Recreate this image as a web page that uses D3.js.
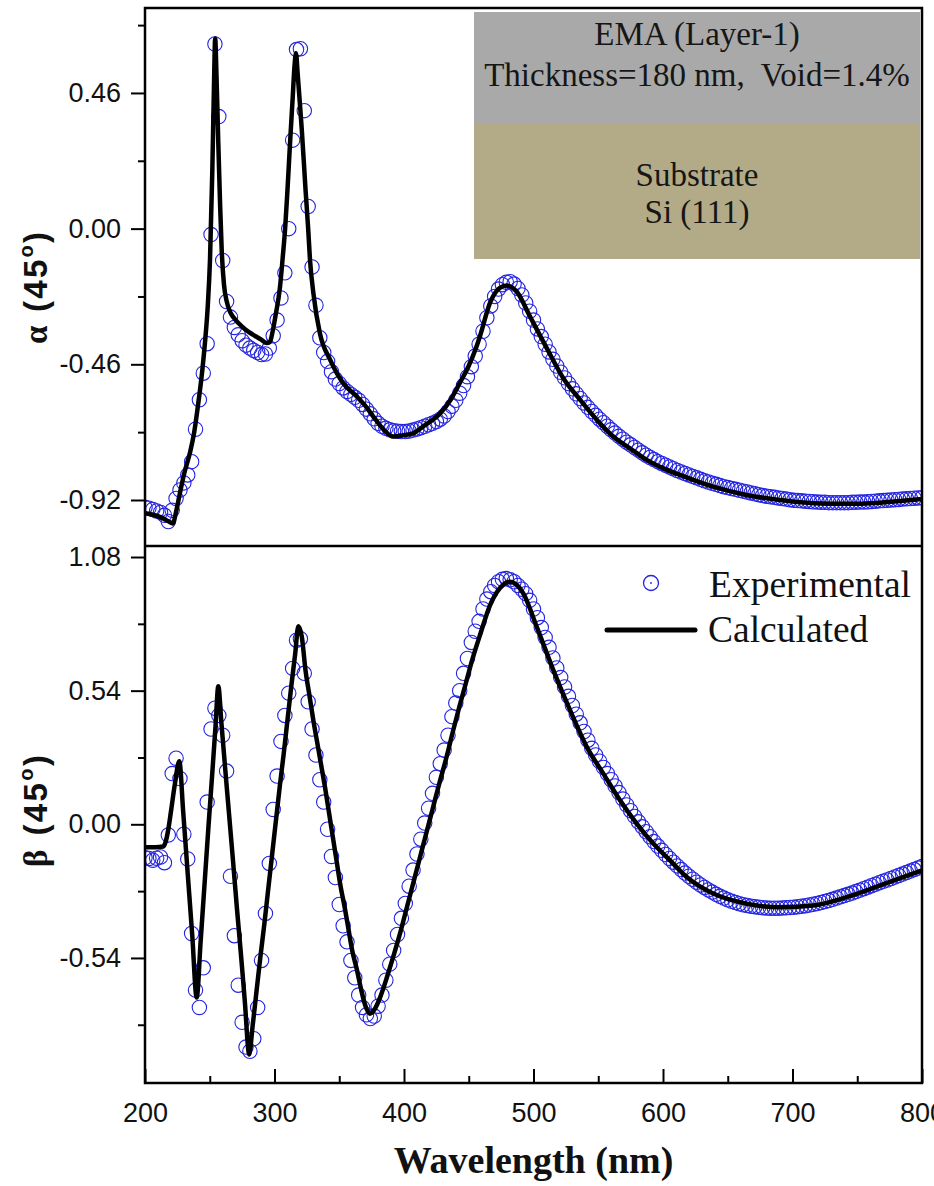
<!DOCTYPE html>
<html><head><meta charset="utf-8">
<script src="https://cdn.jsdelivr.net/npm/d3@7"></script>
<style>
html,body{margin:0;padding:0;background:#fff;}
svg{display:block;}
</style></head><body>
<svg id="chart" width="934" height="1186"></svg>
<script>
// ---------------- DATA ----------------
// experimental wavelengths (nm), sampling grid of the measured points
const expWavelengths = d3.range(200, 801, 3);

// alpha(45°) experimental, one value per wavelength above
const alphaExp = [
-0.945,-0.948,-0.952,-0.957,-0.962,-0.972,-0.993,-0.955,-0.915,-0.886,
-0.862,-0.835,-0.79,-0.68,-0.58,-0.49,-0.39,-0.02,0.626,0.38,
-0.108,-0.247,-0.30,-0.335,-0.36,-0.38,-0.395,-0.405,-0.413,-0.42,
-0.427,-0.425,-0.405,-0.363,-0.31,-0.235,-0.15,0.0,0.30,0.607,
0.61,0.40,0.075,-0.13,-0.26,-0.37,-0.42,-0.45,-0.485,-0.51,
-0.525,-0.54,-0.552,-0.562,-0.572,-0.582,-0.596,-0.612,-0.628,-0.645,
-0.66,-0.67,-0.677,-0.682,-0.685,-0.687,-0.688,-0.688,-0.686,-0.683,
-0.679,-0.675,-0.67,-0.665,-0.66,-0.654,-0.646,-0.635,-0.62,-0.602,
-0.582,-0.558,-0.532,-0.502,-0.468,-0.432,-0.392,-0.348,-0.302,-0.262,
-0.23,-0.205,-0.19,-0.182,-0.18,-0.188,-0.203,-0.225,-0.252,-0.28,
-0.31,-0.34,-0.366,-0.392,-0.418,-0.443,-0.466,-0.487,-0.506,-0.525,
-0.543,-0.56,-0.576,-0.591,-0.606,-0.62,-0.633,-0.646,-0.658,-0.67,
-0.682,-0.693,-0.704,-0.714,-0.724,-0.733,-0.742,-0.751,-0.76,-0.768,
-0.776,-0.783,-0.79,-0.796,-0.802,-0.808,-0.814,-0.82,-0.825,-0.83,
-0.835,-0.84,-0.845,-0.85,-0.855,-0.859,-0.863,-0.867,-0.871,-0.875,
-0.878,-0.881,-0.884,-0.887,-0.89,-0.893,-0.896,-0.899,-0.902,-0.905,
-0.907,-0.909,-0.911,-0.913,-0.915,-0.917,-0.919,-0.921,-0.922,-0.923,
-0.924,-0.925,-0.926,-0.927,-0.928,-0.928,-0.929,-0.929,-0.929,-0.929,
-0.929,-0.929,-0.928,-0.928,-0.927,-0.927,-0.926,-0.925,-0.924,-0.923,
-0.922,-0.921,-0.92,-0.919,-0.918,-0.917,-0.916,-0.915,-0.914,-0.913,
-0.912];

// beta(45°) experimental
const betaExp = [
-0.135,-0.138,-0.145,-0.137,-0.132,-0.155,-0.043,0.205,0.267,0.185,
-0.04,-0.14,-0.441,-0.67,-0.74,-0.58,0.09,0.385,0.469,0.44,
0.36,0.215,-0.21,-0.45,-0.65,-0.80,-0.90,-0.917,-0.866,-0.74,
-0.55,-0.36,-0.158,0.06,0.195,0.335,0.44,0.53,0.63,0.744,
0.75,0.61,0.495,0.385,0.28,0.18,0.09,-0.02,-0.13,-0.215,
-0.324,-0.41,-0.475,-0.55,-0.62,-0.69,-0.74,-0.77,-0.785,-0.775,
-0.735,-0.69,-0.63,-0.565,-0.51,-0.445,-0.38,-0.32,-0.25,-0.185,
-0.12,-0.06,0.005,0.065,0.125,0.19,0.245,0.30,0.36,0.435,
0.49,0.54,0.61,0.67,0.735,0.78,0.82,0.87,0.91,0.94,
0.965,0.98,0.99,0.993,0.988,0.98,0.965,0.95,0.932,0.905,
0.87,0.835,0.795,0.755,0.715,0.672,0.632,0.593,0.555,0.517,
0.48,0.445,0.41,0.375,0.34,0.307,0.28,0.255,0.23,0.205,
0.18,0.155,0.128,0.102,0.078,0.055,0.032,0.01,-0.01,-0.03,
-0.05,-0.07,-0.088,-0.105,-0.122,-0.138,-0.153,-0.168,-0.183,-0.197,
-0.21,-0.222,-0.234,-0.245,-0.255,-0.265,-0.274,-0.283,-0.291,-0.298,
-0.305,-0.311,-0.316,-0.321,-0.325,-0.328,-0.331,-0.333,-0.335,-0.337,
-0.338,-0.339,-0.339,-0.339,-0.338,-0.337,-0.336,-0.335,-0.333,-0.331,
-0.329,-0.326,-0.323,-0.32,-0.316,-0.312,-0.308,-0.303,-0.298,-0.293,
-0.288,-0.283,-0.278,-0.272,-0.266,-0.26,-0.254,-0.248,-0.242,-0.236,
-0.23,-0.225,-0.219,-0.213,-0.207,-0.201,-0.195,-0.189,-0.183,-0.177,
-0.171];

// calculated alpha: [wavelength, value]
const alphaCalc = [
[200,-0.965],[206,-0.970],[212,-0.978],[218,-0.992],[221.5,-1.0],[224,-0.96],[227,-0.896],
[230,-0.835],[234.7,-0.76],[238,-0.69],[241.2,-0.59],[244,-0.49],[246.3,-0.387],[248.5,-0.26],
[250.2,-0.105],[252,0.2],[253.2,0.47],[254.2,0.645],[255.2,0.52],[256.6,0.29],[258,0.08],
[259.3,-0.08],[261,-0.19],[263,-0.245],[266,-0.285],[270,-0.31],[275,-0.332],[280,-0.35],
[285,-0.364],[290,-0.377],[294,-0.388],[296.5,-0.384],[298.5,-0.35],[301,-0.29],[304.2,-0.2],
[306.3,-0.1],[308.2,0.0],[310,0.13],[312,0.29],[314,0.44],[315.6,0.56],[316.6,0.595],
[317.8,0.53],[319.5,0.43],[321,0.34],[324,0.13],[326,0.0],[327.4,-0.105],[330,-0.218],
[335,-0.354],[343,-0.445],[353,-0.524],[363.5,-0.569],[370,-0.60],[376.3,-0.637],[384,-0.68],
[391.7,-0.705],[400,-0.70],[407,-0.694],[415,-0.67],[428,-0.626],[436,-0.58],[443,-0.524],
[450,-0.465],[456,-0.40],[459,-0.36],[466.4,-0.252],[474,-0.201],[479.3,-0.193],[487,-0.213],
[497.3,-0.298],[510.2,-0.405],[523,-0.507],[535.9,-0.58],[548.8,-0.648],[561.6,-0.705],
[574.5,-0.745],[587.4,-0.784],[600,-0.812],[613.1,-0.835],[638.8,-0.875],[664.6,-0.903],
[690.3,-0.92],[716.1,-0.931],[741.9,-0.933],[767.6,-0.929],[800,-0.917]];

// calculated beta: [wavelength, value]
const betaCalc = [
[200,-0.093],[208,-0.093],[214,-0.09],[216,-0.07],[218,-0.02],[220,0.05],[223,0.16],
[226.5,0.255],[229.5,0.05],[233,-0.2],[236.5,-0.45],[239.9,-0.70],[243,-0.47],[246,-0.24],
[249,-0.01],[252,0.21],[254.5,0.40],[256.6,0.558],[259,0.41],[262,0.22],[265,0.035],
[268,-0.15],[271,-0.34],[274,-0.52],[277,-0.71],[280.5,-0.93],[283,-0.82],[286,-0.68],
[289,-0.54],[292,-0.41],[295,-0.27],[298,-0.13],[301,0.01],[304,0.15],[307,0.28],[310,0.42],
[313,0.56],[316,0.69],[318.4,0.80],[321,0.76],[324,0.62],[327,0.52],[330,0.42],[333,0.33],
[336,0.24],[339,0.15],[342,0.05],[345,-0.05],[348,-0.15],[351,-0.25],[354,-0.33],[357,-0.42],
[360,-0.51],[363.5,-0.585],[367,-0.67],[370,-0.73],[373.7,-0.765],[377,-0.75],[381.5,-0.70],
[387,-0.615],[392,-0.53],[397,-0.44],[402,-0.34],[407,-0.24],[412,-0.14],[417,-0.04],
[422,0.06],[427,0.16],[433,0.275],[438,0.38],[443,0.48],[448,0.575],[453,0.67],[458.7,0.765],
[466.4,0.885],[474.1,0.955],[481.9,0.98],[492.1,0.933],[502.5,0.798],[515.3,0.623],
[528.2,0.461],[541.1,0.313],[553.9,0.205],[566.8,0.097],[579.7,0.003],[592.5,-0.078],
[605.4,-0.146],[618.3,-0.213],[638.8,-0.28],[664.6,-0.321],[690.3,-0.335],[716.1,-0.328],
[741.9,-0.294],[767.6,-0.247],[800,-0.186]];

const xTicks = [200,300,400,500,600,700,800];
const xMinorTicks = [250,350,450,550,650,750];
const alphaTicks = [0.46,0.00,-0.46,-0.92];
const alphaMinorTicks = [0.69,0.23,-0.23,-0.69];
const betaTicks = [1.08,0.54,0.00,-0.54];
const betaMinorTicks = [0.81,0.27,-0.27,-0.81];
const insetTopLines = ["EMA (Layer-1)", "Thickness=180 nm,  Void=1.4%"];
const insetBottomLines = ["Substrate", "Si (111)"];
const legendLabels = ["Experimental", "Calculated"];

// ---------------- LAYOUT ----------------
const svg = d3.select('#chart');
const L = 145, R = 922, T = 8, M = 546, B = 1083;
const blue = '#2424e2';
const sans = "'Liberation Sans', Arial, sans-serif";
const serif = "'Liberation Serif', 'Times New Roman', serif";

const x = d3.scaleLinear().domain([200, 800]).range([L, R]);
const yA = d3.scaleLinear().domain([-1.076, 0.748]).range([M, T]);
const yB = d3.scaleLinear().domain([-1.0453, 1.1245]).range([B, M]);

svg.append('rect').attr('width', 934).attr('height', 1186).attr('fill', '#fff');

const defs = svg.append('defs');
defs.append('clipPath').attr('id', 'clipA').append('rect')
  .attr('x', L).attr('y', T).attr('width', R - L).attr('height', M - T);
defs.append('clipPath').attr('id', 'clipB').append('rect')
  .attr('x', L).attr('y', M).attr('width', R - L).attr('height', B - M);

// inset (layer model) in top panel
const insetX0 = 474, insetX1 = 920;
svg.append('rect').attr('x', insetX0).attr('y', 12).attr('width', insetX1 - insetX0).attr('height', 112).attr('fill', '#a9a9a9');
svg.append('rect').attr('x', insetX0).attr('y', 124).attr('width', insetX1 - insetX0).attr('height', 135).attr('fill', '#b3ab87');
const insetCx = (insetX0 + insetX1) / 2;
[[insetTopLines[0], 45], [insetTopLines[1], 86], [insetBottomLines[0], 186], [insetBottomLines[1], 223]].forEach(([t, yy]) => {
  svg.append('text').attr('x', insetCx).attr('y', yy).attr('text-anchor', 'middle')
    .attr('font-family', serif).attr('font-size', 33).attr('fill', '#161616')
    .style('white-space', 'pre').text(t);
});

function panel(y, clipId, exp, calc) {
  const g = svg.append('g').attr('clip-path', `url(#${clipId})`);
  g.selectAll('circle.exp').data(expWavelengths.map((w, i) => [w, exp[i]]))
    .enter().append('circle').attr('class', 'exp')
    .attr('cx', d => x(d[0])).attr('cy', d => y(d[1])).attr('r', 7.2)
    .attr('fill', 'none').attr('stroke', blue).attr('stroke-width', 1.1);
  const line = d3.line().x(d => x(d[0])).y(d => y(d[1])).curve(d3.curveMonotoneX);
  g.append('path').datum(calc).attr('d', line)
    .attr('fill', 'none').attr('stroke', '#000').attr('stroke-width', 4.5)
    .attr('stroke-linejoin', 'round').attr('stroke-linecap', 'round');
}
panel(yA, 'clipA', alphaExp, alphaCalc);
panel(yB, 'clipB', betaExp, betaCalc);

// y axes
function yAxis(y, major, minor) {
  const gMaj = svg.append('g').attr('transform', `translate(${L},0)`)
    .call(d3.axisLeft(y).tickValues(major).tickSize(14).tickPadding(10).tickFormat(d => d.toFixed(2)));
  gMaj.select('.domain').remove();
  gMaj.selectAll('line').attr('stroke', '#000').attr('stroke-width', 2);
  gMaj.selectAll('text').attr('font-family', sans).attr('font-size', 27).attr('fill', '#111');
  const gMin = svg.append('g').attr('transform', `translate(${L},0)`)
    .call(d3.axisLeft(y).tickValues(minor).tickSize(7).tickFormat(''));
  gMin.select('.domain').remove();
  gMin.selectAll('line').attr('stroke', '#000').attr('stroke-width', 2);
}
yAxis(yA, alphaTicks, alphaMinorTicks);
yAxis(yB, betaTicks, betaMinorTicks);

// x axis (ticks inward)
const gx = svg.append('g').attr('transform', `translate(0,${B})`)
  .call(d3.axisBottom(x).tickValues(xTicks).tickSizeInner(-14).tickSizeOuter(0).tickPadding(20).tickFormat(d3.format('d')));
gx.select('.domain').remove();
gx.selectAll('line').attr('stroke', '#000').attr('stroke-width', 2);
gx.selectAll('text').attr('font-family', sans).attr('font-size', 27).attr('fill', '#111');
const gxm = svg.append('g').attr('transform', `translate(0,${B})`)
  .call(d3.axisBottom(x).tickValues(xMinorTicks).tickSizeInner(-7).tickSizeOuter(0).tickFormat(''));
gxm.select('.domain').remove();
gxm.selectAll('line').attr('stroke', '#000').attr('stroke-width', 2);

// frame
svg.append('rect').attr('x', L).attr('y', T).attr('width', R - L).attr('height', B - T)
  .attr('fill', 'none').attr('stroke', '#000').attr('stroke-width', 2.5);
svg.append('line').attr('x1', L).attr('x2', R).attr('y1', M).attr('y2', M)
  .attr('stroke', '#000').attr('stroke-width', 2.5);

// axis titles
svg.append('text').attr('x', (L + R) / 2).attr('y', 1173).attr('text-anchor', 'middle')
  .attr('font-family', serif).attr('font-weight', 'bold').attr('font-size', 38).attr('fill', '#111')
  .text('Wavelength (nm)');

function yTitle(sym, cy) {
  const t = svg.append('text').attr('transform', `translate(47,${cy}) rotate(-90)`)
    .attr('text-anchor', 'middle').attr('font-family', sans).attr('font-weight', 'bold')
    .attr('font-size', 33).attr('fill', '#111').attr('textLength', 112).attr('lengthAdjust', 'spacing');
  t.append('tspan').attr('font-family', serif).text(sym);
  t.append('tspan').text(' (45');
  t.append('tspan').attr('font-size', 20).attr('dy', -14).text('o');
  t.append('tspan').attr('dy', 14).text(')');
}
yTitle('α', 288);
yTitle('β', 811);

// legend
svg.append('circle').attr('cx', 651).attr('cy', 583).attr('r', 7.5)
  .attr('fill', 'none').attr('stroke', blue).attr('stroke-width', 1.3);
svg.append('circle').attr('cx', 651).attr('cy', 583).attr('r', 0.9).attr('fill', blue);
svg.append('text').attr('x', 709).attr('y', 597).attr('font-family', serif).attr('font-size', 37.5)
  .attr('fill', '#111').text(legendLabels[0]);
svg.append('line').attr('x1', 607).attr('x2', 695).attr('y1', 630).attr('y2', 630)
  .attr('stroke', '#000').attr('stroke-width', 5).attr('stroke-linecap', 'round');
svg.append('text').attr('x', 708).attr('y', 642).attr('font-family', serif).attr('font-size', 37.5)
  .attr('fill', '#111').text(legendLabels[1]);
</script>
</body></html>
